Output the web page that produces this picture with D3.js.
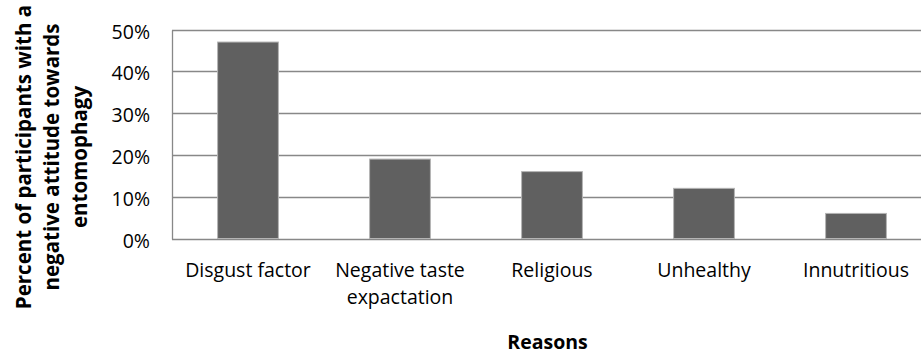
<!DOCTYPE html>
<html>
<head>
<meta charset="utf-8">
<script src="https://cdn.jsdelivr.net/npm/d3@7"></script>
<style>
  html, body { margin: 0; padding: 0; background: #fff; }
  svg { display: block; }
  text { font-family: "Open Sans", "Noto Sans", sans-serif; fill: #000; }
</style>
</head>
<body>
<div id="chart"></div>
<script>
// ---- data ----
const categories = ["Disgust factor", "Negative taste expactation", "Religious", "Unhealthy", "Innutritious"];
const categoryLines = [["Disgust factor"], ["Negative taste", "expactation"], ["Religious"], ["Unhealthy"], ["Innutritious"]];
const values = [0.47, 0.19, 0.16, 0.12, 0.06];
const yTicks = [0, 0.1, 0.2, 0.3, 0.4, 0.5];
const yTitleLines = ["Percent of participants with a", "negative attitude towards", "entomophagy"];
const xTitle = "Reasons";

// ---- layout ----
const W = 921, H = 356;
const plot = { left: 172, right: 932, top: 29.5, bottom: 238.5 };

const svg = d3.select("#chart").append("svg").attr("width", W).attr("height", H);

const x = d3.scaleBand().domain(categories).range([plot.left, plot.right])
  .paddingInner(0.6).paddingOuter(0.3);
const y = d3.scaleLinear().domain([0, 0.5]).range([plot.bottom, plot.top]);

const gridColor = "#888888";

// gridlines
svg.append("g").selectAll("line").data(yTicks).join("line")
  .attr("x1", plot.left).attr("x2", plot.right)
  .attr("y1", d => Math.round(y(d)) + 0.5).attr("y2", d => Math.round(y(d)) + 0.5)
  .attr("stroke", gridColor).attr("stroke-width", 1.3);

// left axis line
svg.append("line")
  .attr("x1", plot.left + 0.5).attr("x2", plot.left + 0.5)
  .attr("y1", Math.round(y(0.5)) + 0.5).attr("y2", Math.round(y(0)) + 0.5)
  .attr("stroke", gridColor).attr("stroke-width", 1.3);

// y tick labels
const yAxis = d3.axisLeft(y).tickValues(yTicks).tickFormat(d3.format(".0%")).tickSize(0).tickPadding(0);
const gy = svg.append("g").attr("transform", `translate(150,0)`).call(yAxis);
gy.select(".domain").remove();
gy.selectAll("text").attr("font-size", 19.5).attr("dy", null).attr("y", 8.5)
  .style("font-family", '"Open Sans", sans-serif').attr("fill", "#000");

// bars
svg.append("g").selectAll("rect").data(values).join("rect")
  .attr("x", (d, i) => x(categories[i]))
  .attr("y", d => y(d))
  .attr("width", x.bandwidth())
  .attr("height", d => y(0) - y(d))
  .attr("fill", "#606060")
  .attr("stroke", "#b4b4b4").attr("stroke-width", 1);

// category labels
const cat = svg.append("g").selectAll("text").data(categories).join("text")
  .attr("text-anchor", "middle")
  .attr("font-size", 19.5)
  .attr("x", d => x(d) + x.bandwidth() / 2)
  .attr("y", plot.bottom + 38.5);
cat.each(function(d, i) {
  const t = d3.select(this);
  categoryLines[i].forEach((ln, j) => {
    t.append("tspan").attr("x", x(d) + x.bandwidth() / 2).attr("dy", j === 0 ? 0 : 27).text(ln);
  });
});

// x title
svg.append("text")
  .attr("x", (plot.left + W) / 2 + 1).attr("y", 349)
  .attr("text-anchor", "middle").attr("font-size", 19.5).attr("font-weight", "bold")
  .text(xTitle);

// y title
const yt = svg.append("text")
  .attr("transform", `translate(31,157) rotate(-90)`)
  .attr("text-anchor", "middle").attr("font-size", 20.5).attr("font-weight", "bold");
yTitleLines.forEach((ln, j) => {
  yt.append("tspan").attr("x", 0).attr("dy", j === 0 ? 0 : 28).text(ln);
});
</script>
</body>
</html>
